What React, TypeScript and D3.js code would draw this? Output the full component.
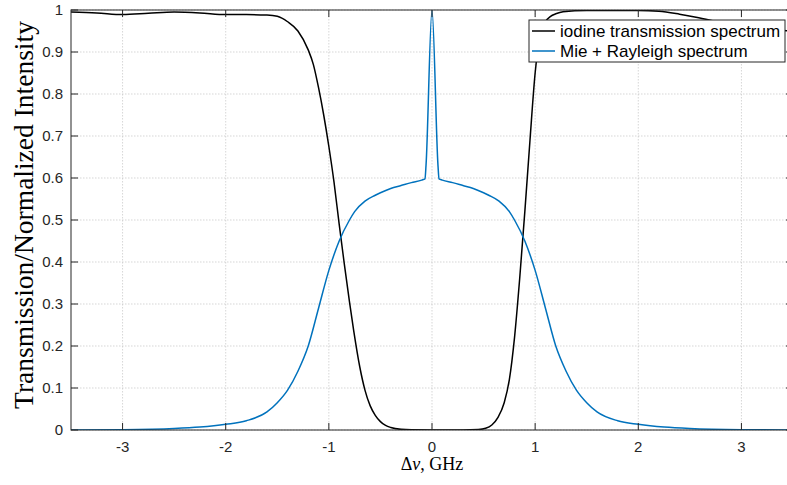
import React from "react";
import * as d3 from "d3";

// Frequency offset (GHz) and iodine cell transmission
const iodineNu = [
  -3.5, -3.25, -3.0, -2.75, -2.5, -2.25, -2.0, -1.8, -1.6, -1.5, -1.4, -1.3, -1.2, -1.15, -1.1, -1.05, -1.0,
  -0.95, -0.9, -0.85, -0.8, -0.76, -0.7, -0.65, -0.6, -0.55, -0.5, -0.45, -0.4, -0.3, -0.2, 0.0,
  0.3, 0.45, 0.52, 0.58, 0.64, 0.7, 0.75, 0.8, 0.85, 0.9, 0.95, 1.0, 1.05, 1.1, 1.15, 1.2, 1.27,
  1.5, 2.0, 2.2, 2.4, 2.56, 2.8, 3.0, 3.5,
];
const iodineT = [
  0.995, 0.993, 0.989, 0.992, 0.995, 0.993, 0.989, 0.989, 0.988, 0.985, 0.972, 0.95, 0.905, 0.87, 0.815, 0.75, 0.675,
  0.59, 0.49, 0.395, 0.305, 0.238, 0.15, 0.095, 0.058, 0.035, 0.02, 0.011, 0.006, 0.0015, 0.0003, 0.0,
  0.0, 0.001, 0.004, 0.012, 0.03, 0.065, 0.12, 0.22, 0.36, 0.52, 0.69, 0.85, 0.94, 0.972, 0.985, 0.991, 0.996,
  0.999, 0.999, 0.997, 0.99, 0.983, 0.97, 0.96, 0.95,
];

// Frequency offset (GHz) and normalized Mie + Rayleigh backscatter intensity
const scatterNu = [
  -3.5, -3.0, -2.5, -2.25, -2.0, -1.8, -1.6, -1.5, -1.4, -1.3, -1.2, -1.1, -1.0, -0.9,
  -0.8, -0.75, -0.65, -0.55, -0.5, -0.4, -0.3, -0.2, -0.1, -0.068, -0.058, 0.0,
  0.058, 0.068, 0.1, 0.2, 0.3, 0.4, 0.5, 0.55, 0.65, 0.75, 0.8, 0.9, 1.0, 1.1, 1.2, 1.3, 1.4,
  1.5, 1.6, 1.8, 2.0, 2.25, 2.5, 3.0, 3.5,
];
const scatterI = [
  0.0002, 0.0008, 0.0035, 0.007, 0.0136, 0.022, 0.043, 0.065, 0.095, 0.14, 0.2, 0.29, 0.38, 0.45,
  0.5, 0.52, 0.545, 0.559, 0.565, 0.575, 0.582, 0.589, 0.595, 0.598, 0.63, 1.0,
  0.63, 0.598, 0.595, 0.589, 0.582, 0.575, 0.565, 0.559, 0.545, 0.52, 0.5, 0.45, 0.38, 0.29, 0.2, 0.14, 0.095,
  0.065, 0.043, 0.022, 0.0136, 0.007, 0.0035, 0.0008, 0.0002,
];

const xTicks = [-3, -2, -1, 0, 1, 2, 3];
const yTicks = [0, 0.1, 0.2, 0.3, 0.4, 0.5, 0.6, 0.7, 0.8, 0.9, 1];
const yTickLabels = ["0", "0.1", "0.2", "0.3", "0.4", "0.5", "0.6", "0.7", "0.8", "0.9", "1"];

const seriesNames = ["iodine transmission spectrum", "Mie + Rayleigh spectrum"];
const seriesColors = ["#000000", "#0072BD"];

const W = 787;
const H = 485;
const plot = { left: 71, right: 793, top: 10, bottom: 430 };
const axisColor = "#262626";
const sans = "'Liberation Sans', Arial, Helvetica, sans-serif";
const serif = "'Liberation Serif', 'Times New Roman', serif";

export default function App() {
  const x = d3.scaleLinear().domain([-3.5, 3.5]).range([plot.left, plot.right]);
  const y = d3.scaleLinear().domain([0, 1]).range([plot.bottom, plot.top]);

  const line = d3
    .line<[number, number]>()
    .x((d) => x(d[0]))
    .y((d) => y(d[1]))
    .curve(d3.curveMonotoneX);

  const iodinePath = line(iodineNu.map((v, i) => [v, iodineT[i]] as [number, number])) || "";
  const scatterPath = line(scatterNu.map((v, i) => [v, scatterI[i]] as [number, number])) || "";

  const tickLen = 7;
  const legend = { x: 529, y: 20, w: 256, h: 42 };

  return (
    <svg
      width={W}
      height={H}
      style={{ position: "absolute", left: 0, top: 0, background: "#fff" }}
    >
      <defs>
        <clipPath id="plot-clip">
          <rect x={plot.left} y={plot.top} width={plot.right - plot.left} height={plot.bottom - plot.top} />
        </clipPath>
      </defs>
      <rect x={0} y={0} width={W} height={H} fill="#fff" />

      {/* grid */}
      <g stroke="#c4c4c4" strokeWidth={0.7} strokeDasharray="1.5,1.5">
        {xTicks.map((t) => (
          <line key={"gx" + t} x1={x(t)} x2={x(t)} y1={plot.top} y2={plot.bottom} />
        ))}
        {yTicks.map((t) => (
          <line key={"gy" + t} x1={plot.left} x2={plot.right} y1={y(t)} y2={y(t)} />
        ))}
      </g>

      {/* data */}
      <g clipPath="url(#plot-clip)" fill="none" strokeWidth={1.5} strokeLinejoin="round">
        <path d={iodinePath} stroke={seriesColors[0]} />
        <path d={scatterPath} stroke={seriesColors[1]} />
      </g>

      {/* box and ticks */}
      <g stroke={axisColor} strokeWidth={1} fill="none">
        <rect x={plot.left} y={plot.top} width={plot.right - plot.left} height={plot.bottom - plot.top} />
        {xTicks.map((t) => (
          <g key={"tx" + t}>
            <line x1={x(t)} x2={x(t)} y1={plot.bottom} y2={plot.bottom - tickLen} />
            <line x1={x(t)} x2={x(t)} y1={plot.top} y2={plot.top + tickLen} />
          </g>
        ))}
        {yTicks.map((t) => (
          <g key={"ty" + t}>
            <line x1={plot.left} x2={plot.left + tickLen} y1={y(t)} y2={y(t)} />
            <line x1={plot.right} x2={plot.right - tickLen} y1={y(t)} y2={y(t)} />
          </g>
        ))}
      </g>

      {/* tick labels */}
      <g fill={axisColor} fontFamily={sans} fontSize={15}>
        {xTicks.map((t) => (
          <text key={"lx" + t} x={x(t)} y={451.5} textAnchor="middle">
            {String(t)}
          </text>
        ))}
        {yTicks.map((t, i) => (
          <text key={"ly" + t} x={63} y={y(t) + 5} textAnchor="end">
            {yTickLabels[i]}
          </text>
        ))}
      </g>

      {/* axis titles */}
      <text x={432} y={469.5} textAnchor="middle" fontFamily={serif} fontSize={18} fill="#000">
        Δ<tspan fontStyle="italic">ν</tspan>, GHz
      </text>
      <text
        transform={`translate(33,${(plot.top + plot.bottom) / 2 - 5}) rotate(-90)`}
        textAnchor="middle"
        fontFamily={serif}
        fontSize={27.5}
        fill="#000"
      >
        Transmission/Normalized Intensity
      </text>

      {/* legend */}
      <g>
        <rect x={legend.x} y={legend.y} width={legend.w} height={legend.h} fill="#fff" stroke={axisColor} strokeWidth={1} />
        {seriesNames.map((name, i) => {
          const cy = legend.y + 11 + i * 20;
          return (
            <g key={name}>
              <line x1={legend.x + 3} x2={legend.x + 26} y1={cy} y2={cy} stroke={seriesColors[i]} strokeWidth={1.5} />
              <text x={legend.x + 31} y={cy + 6} fontFamily={sans} fontSize={17} fill="#000">
                {name}
              </text>
            </g>
          );
        })}
      </g>
    </svg>
  );
}
